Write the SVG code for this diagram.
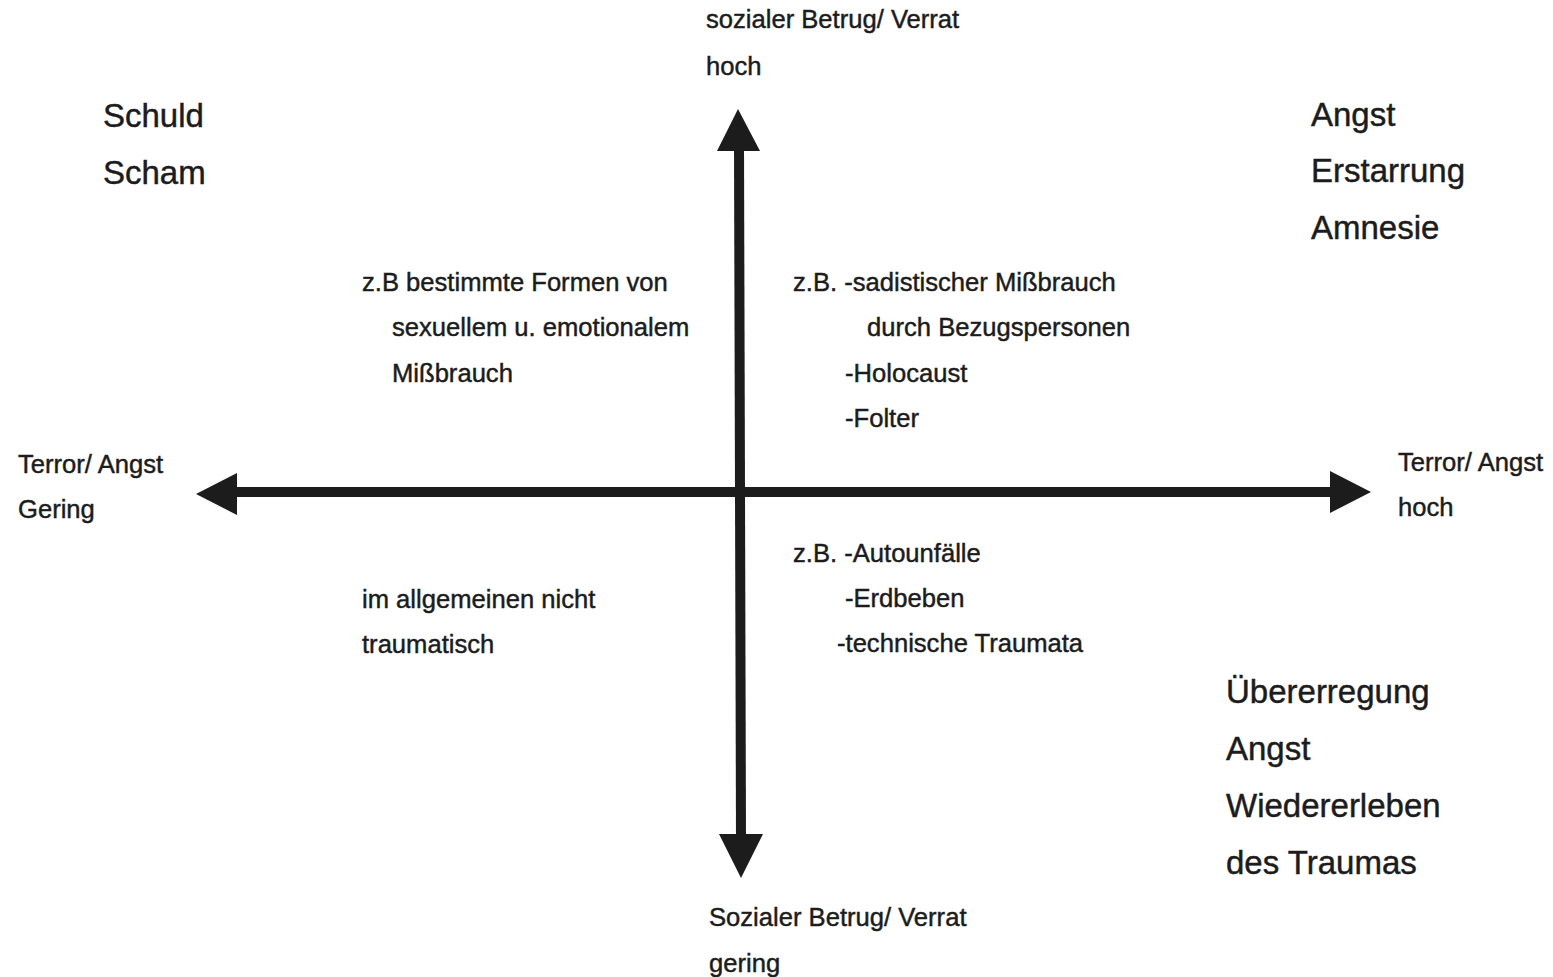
<svg xmlns="http://www.w3.org/2000/svg" width="1553" height="977" viewBox="0 0 1553 977">
  <style>
    text { font-family: "Liberation Sans", Arial, sans-serif; fill: #1c1c1c; stroke: #1c1c1c; stroke-width: 0.45; }
    .s { font-size: 25.6px; }
    .b { font-size: 33px; }
    .axis { stroke: #1c1c1c; stroke-width: 10; fill: none; }
    .head { fill: #1c1c1c; }
  </style>
  <rect width="1553" height="977" fill="#ffffff"/>

  <g id="connectors">
    <line class="axis" x1="739" y1="145" x2="741" y2="840"/>
    <line class="axis" x1="230" y1="492" x2="1336" y2="492"/>
    <polygon class="head" points="738,109 760,151 717,151"/>
    <polygon class="head" points="741,878 719,834 763,834"/>
    <polygon class="head" points="196,494 237,473 237,515"/>
    <polygon class="head" points="1371,492 1330,471 1330,513"/>
  </g>

  <g id="top-label">
    <text class="s" x="706" y="28">sozialer Betrug/ Verrat</text>
    <text class="s" x="706" y="75">hoch</text>
  </g>

  <g id="bottom-label">
    <text class="s" x="709" y="926">Sozialer Betrug/ Verrat</text>
    <text class="s" x="709" y="972">gering</text>
  </g>

  <g id="left-label">
    <text class="s" x="18" y="473">Terror/ Angst</text>
    <text class="s" x="18" y="518">Gering</text>
  </g>

  <g id="right-label">
    <text class="s" x="1398" y="471">Terror/ Angst</text>
    <text class="s" x="1398" y="516">hoch</text>
  </g>

  <g id="schuld-scham">
    <text class="b" x="103" y="127">Schuld</text>
    <text class="b" x="103" y="184">Scham</text>
  </g>

  <g id="angst-erstarrung">
    <text class="b" x="1311" y="126">Angst</text>
    <text class="b" x="1311" y="182">Erstarrung</text>
    <text class="b" x="1311" y="239">Amnesie</text>
  </g>

  <g id="uebererregung">
    <text class="b" x="1226" y="703">Übererregung</text>
    <text class="b" x="1226" y="760">Angst</text>
    <text class="b" x="1226" y="817">Wiedererleben</text>
    <text class="b" x="1226" y="874">des Traumas</text>
  </g>

  <g id="quadrant-upper-left">
    <text class="s" x="362" y="291">z.B bestimmte Formen von</text>
    <text class="s" x="392" y="336">sexuellem u. emotionalem</text>
    <text class="s" x="392" y="382">Mißbrauch</text>
  </g>

  <g id="quadrant-upper-right">
    <text class="s" x="793" y="291">z.B. -sadistischer Mißbrauch</text>
    <text class="s" x="867" y="336">durch Bezugspersonen</text>
    <text class="s" x="845" y="382">-Holocaust</text>
    <text class="s" x="845" y="427">-Folter</text>
  </g>

  <g id="quadrant-lower-right">
    <text class="s" x="793" y="562">z.B. -Autounfälle</text>
    <text class="s" x="845" y="607">-Erdbeben</text>
    <text class="s" x="837" y="652">-technische Traumata</text>
  </g>

  <g id="quadrant-lower-left">
    <text class="s" x="362" y="608">im allgemeinen nicht</text>
    <text class="s" x="362" y="653">traumatisch</text>
  </g>
</svg>
